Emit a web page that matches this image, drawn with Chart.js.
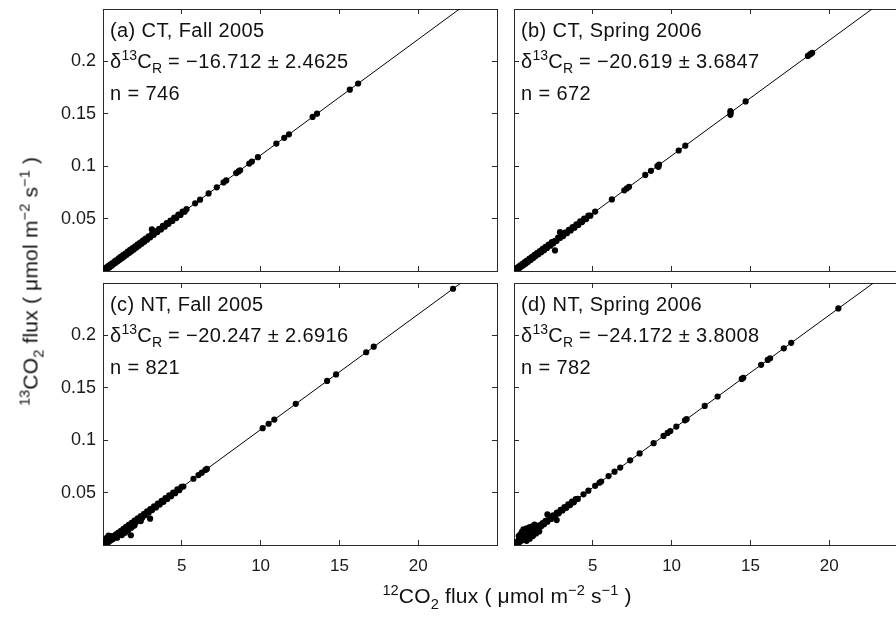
<!DOCTYPE html>
<html><head><meta charset="utf-8">
<script src="https://cdn.jsdelivr.net/npm/chart.js@4"></script>
<style>
html,body{margin:0;padding:0;background:#fff;width:896px;height:621px;overflow:hidden;position:relative;}
canvas{position:absolute;left:0;top:0;}
.t{position:absolute;font-family:'Liberation Sans',Arial,sans-serif;color:#111;white-space:nowrap;line-height:1;}
.ann{font-size:20px;letter-spacing:0.4px;}
.ttl{font-size:21px;letter-spacing:0.2px;}
sup,sub{font-size:70%;line-height:0;position:relative;vertical-align:baseline;letter-spacing:0;}
sup{top:-0.55em;}
sub{top:0.38em;}
</style></head><body>
<canvas id="cA" width="920" height="621"></canvas>
<canvas id="cB" width="920" height="621"></canvas>
<canvas id="cC" width="920" height="621"></canvas>
<canvas id="cD" width="920" height="621"></canvas>
<script>
// ---- data (x: 12CO2 flux, y: 13CO2 flux) ----
const xTicks = [0, 5, 10, 15, 20, 25];
const yTicks = [0, 0.05, 0.1, 0.15, 0.2, 0.25];
const panelTitles = ['(a) CT, Fall 2005', '(b) CT, Spring 2006', '(c) NT, Fall 2005', '(d) NT, Spring 2006'];
const deltaValues = ['\u221216.712 \u00b1 2.4625', '\u221220.619 \u00b1 3.6847', '\u221220.247 \u00b1 2.6916', '\u221224.172 \u00b1 3.8008'];
const nValues = [746, 672, 821, 782];

const ctFall = [
[0.05,0.0011],[0.1,0.0003],[0.15,0.0026],[0.2,0.0013],[0.25,0.0037],[0.3,0.0024],[0.35,0.0048],[0.42,0.0036],
[0.48,0.0063],[0.55,0.0051],[0.6,0.0076],[0.68,0.0066],[0.74,0.0091],[0.8,0.0079],[0.86,0.0105],[0.93,0.0093],
[1.0,0.0121],[1.06,0.0107],[1.12,0.0134],[1.2,0.0122],[1.27,0.0151],[1.35,0.0139],[1.42,0.0167],[1.5,0.0156],
[1.57,0.0184],[1.65,0.0172],[1.72,0.0201],[1.8,0.0188],[1.88,0.0218],[1.96,0.0206],[2.04,0.0236],[2.12,0.0224],
[2.2,0.0254],[2.28,0.0242],[2.36,0.0271],[2.45,0.0260],[2.53,0.0290],[2.62,0.0279],[2.7,0.0309],[2.8,0.0299],
[2.9,0.0331],[3.0,0.0321],[3.1,0.0397],[3.12,0.0355],[3.22,0.0345],[3.33,0.0378],[3.45,0.0371],[3.56,0.0403],
[3.68,0.0397],[3.8,0.0430],[3.92,0.0423],[4.04,0.0456],[4.16,0.0450],[4.28,0.0482],[4.4,0.0477],[4.52,0.0509],
[4.65,0.0505],[4.78,0.0537],[4.92,0.0535],[5.05,0.0566],[5.18,0.0566],[5.3,0.0590],
[5.85,0.0646],[6.16,0.0681],[6.7,0.0740],[7.22,0.0798],[7.65,0.0845],[7.82,0.0864],[8.45,0.0934],[8.6,0.0950],
[8.7,0.0961],[9.28,0.1025],[9.45,0.1044],[9.83,0.1086],[11.0,0.1216],[11.5,0.1271],[11.8,0.1304],[13.3,0.1470],
[13.58,0.1501],[15.66,0.1730],[16.19,0.1789]
];
const ctSpring = [
[0.05,0.0012],[0.1,0.0002],[0.16,0.0027],[0.22,0.0014],[0.28,0.0040],[0.34,0.0028],[0.4,0.0054],[0.47,0.0042],
[0.54,0.0069],[0.61,0.0057],[0.68,0.0085],[0.75,0.0072],[0.82,0.0100],[0.9,0.0088],[0.98,0.0118],[1.06,0.0106],
[1.14,0.0135],[1.22,0.0124],[1.3,0.0153],[1.38,0.0142],[1.46,0.0171],[1.55,0.0160],[1.64,0.0191],[1.73,0.0180],
[1.82,0.0211],[1.91,0.0199],[2.0,0.0231],[2.1,0.0220],[2.2,0.0253],[2.3,0.0242],[2.4,0.0275],[2.5,0.0264],
[2.6,0.0196],[2.6,0.0287],[2.7,0.0287],[2.8,0.0319],[2.92,0.0370],[2.92,0.0316],[3.0,0.0341],[3.12,0.0333],
[3.24,0.0367],[3.36,0.0360],[3.48,0.0393],[3.6,0.0387],[3.72,0.0420],[3.84,0.0413],[3.96,0.0446],[4.08,0.0440],
[4.2,0.0473],[4.32,0.0467],[4.45,0.0500],[4.58,0.0495],[4.72,0.0529],[4.85,0.0528],
[5.15,0.0567],[6.21,0.0683],[7.0,0.0770],[7.16,0.0788],[7.3,0.0803],[8.33,0.0917],[8.69,0.0956],[9.1,0.1001],
[9.17,0.0994],[9.2,0.1016],[10.45,0.1150],[10.87,0.1196],[13.73,0.1525],[13.73,0.1490],[13.75,0.1510],[14.7,0.1618],
[18.65,0.2052],[18.8,0.2069],[18.92,0.2082]
];
const ntFall = [
[0.05,0.0012],[0.1,0.0002],[0.16,0.0027],[0.22,0.0014],[0.28,0.0041],[0.34,0.0027],[0.4,0.0055],[0.47,0.0042],
[0.54,0.0070],[0.61,0.0056],[0.68,0.0086],[0.75,0.0072],[0.82,0.0101],[0.9,0.0087],[0.98,0.0119],[1.06,0.0105],
[1.14,0.0136],[1.22,0.0123],[1.3,0.0154],[1.38,0.0141],[1.46,0.0172],[1.55,0.0159],[1.64,0.0192],[1.73,0.0179],
[1.82,0.0212],[1.91,0.0198],[2.0,0.0232],[2.1,0.0219],[2.2,0.0254],[2.3,0.0241],[2.4,0.0276],[2.5,0.0263],
[2.6,0.0298],[2.7,0.0286],[2.8,0.0320],[2.9,0.0308],[3.0,0.0342],[3.12,0.0333],[3.24,0.0368],[3.36,0.0359],
[3.48,0.0394],[3.6,0.0386],[3.72,0.0421],[3.84,0.0412],[3.96,0.0447],[4.08,0.0439],[4.2,0.0474],[4.32,0.0466],
[4.45,0.0501],[4.58,0.0494],[4.72,0.0530],[4.85,0.0524],[4.98,0.0556],[5.1,0.0558],
[2.99,0.0251],[1.77,0.0093],[0.35,0.0090],[0.22,0.0065],[0.5,0.0085],[0.15,0.0040],
[0.9,0.0070],[1.2,0.0095],[1.4,0.0118],[1.6,0.0140],[1.8,0.0165],[2.0,0.0185],[2.4,0.0228],
[5.74,0.0632],[6.06,0.0667],[6.27,0.0690],[6.5,0.0716],[6.59,0.0726],[10.13,0.1115],[10.51,0.1157],[10.87,0.1197],
[12.23,0.1347],[14.22,0.1566],[14.79,0.1628],[16.7,0.1839],[17.18,0.1892],[22.21,0.2445]
];
const ntSpring = [
[0.05,0.0012],[0.1,0.0002],[0.16,0.0027],[0.22,0.0014],[0.28,0.0041],[0.34,0.0027],[0.4,0.0054],[0.47,0.0041],
[0.54,0.0069],[0.61,0.0056],[0.68,0.0085],[0.75,0.0072],[0.82,0.0100],[0.9,0.0088],[0.98,0.0118],[1.06,0.0105],
[1.14,0.0135],[1.22,0.0123],[1.3,0.0153],[1.38,0.0141],[1.46,0.0170],[1.55,0.0159],[1.64,0.0190],[1.73,0.0180],
[1.82,0.0210],[1.91,0.0199],[2.0,0.0230],[2.12,0.0292],[2.12,0.0223],[2.24,0.0256],[2.36,0.0248],[2.48,0.0282],
[2.6,0.0275],[2.71,0.0238],[2.72,0.0308],[2.84,0.0302],[2.96,0.0335],[3.08,0.0329],[3.2,0.0361],[3.32,0.0355],
[3.44,0.0387],[3.56,0.0381],[3.68,0.0413],[3.8,0.0407],[3.92,0.0439],[4.05,0.0440],
[0.3,0.0085],[0.4,0.0100],[0.5,0.0125],[0.6,0.0150],[0.8,0.0160],[0.9,0.0140],[1.0,0.0170],[1.2,0.0180],[1.3,0.0195],
[0.8,0.0040],[1.0,0.0060],[1.2,0.0085],[1.4,0.0110],[1.6,0.0130],
[4.41,0.0484],[4.72,0.0518],[5.15,0.0565],[5.42,0.0594],[5.53,0.0606],[6.0,0.0658],[6.38,0.0700],[6.74,0.0739],
[7.37,0.0808],[7.97,0.0874],[8.86,0.0972],[9.49,0.1041],[9.75,0.1069],[9.92,0.1088],[10.3,0.1130],[10.85,0.1190],
[10.95,0.1201],[12.1,0.1327],[12.92,0.1417],[14.45,0.1585],[14.55,0.1596],[15.68,0.1719],[16.1,0.1766],[16.25,0.1782],
[17.12,0.1877],[17.59,0.1929],[20.58,0.2257]
];
// fitted regression lines (end points)
const fitA = [[0,0],[25,0.2763]];
const fitB = [[0,0],[25,0.2751]];
const fitC = [[0,0],[25,0.2752]];
const fitD = [[0,0],[25,0.2741]];

// ---- layout ----
const CW = 920, CH = 621;
const YW = 70, XH = 40;   // reserved room for tick labels
const rects = [
  {l:103, t:9,   r:497, b:271},
  {l:514, t:9,   r:908, b:271},
  {l:103, t:283, r:497, b:545},
  {l:514, t:283, r:908, b:545}
];
const INK = '#2a2a2a';
const fam = "'Liberation Sans', Arial, sans-serif";

function axis(pos, min, max, showLabels, fmt, pad, size, fsize) {
  const horiz = (pos === 'top' || pos === 'bottom');
  return {
    type:'linear', axis: horiz ? 'x' : 'y', position: pos, min, max,
    afterBuildTicks: s => { s.ticks = (horiz ? xTicks : yTicks).map(v => ({value:v})); },
    ticks:{display:showLabels, color:'#1a1a1a', font:{family:fam, size:fsize}, padding:pad, maxRotation:0, autoSkip:false,
      callback: v => fmt(v)},
    grid:{drawOnChartArea:false, drawTicks:true, tickLength:-5, color:INK, lineWidth:1},
    border:{display:true, color:INK, width:1},
    afterFit: s => {
      if (horiz) s.height = size; else s.width = size;
      s.paddingTop = 0; s.paddingBottom = 0; s.paddingLeft = 0; s.paddingRight = 0;
    }
  };
}
const fx = v => (v <= 0 || v >= 25) ? null : String(v);
const fy = v => (v <= 0.001 || v >= 0.249) ? null : String(+v.toFixed(2));

function makeChart(id, pts, fit, rect, showX, showY) {
  const ctx = document.getElementById(id);
  new Chart(ctx, {
    type:'scatter',
    data:{datasets:[
      {data: pts.map(p => ({x:p[0], y:p[1]})), pointRadius:3.1, pointBackgroundColor:'#000',
       pointBorderWidth:0, pointHoverRadius:3.1, showLine:false, clip:0, xAxisID:'x', yAxisID:'y'},
      {type:'line', data: fit.map(p => ({x:p[0], y:p[1]})), borderColor:'#000', borderWidth:1,
       pointRadius:0, fill:false, tension:0, xAxisID:'x', yAxisID:'y'}
    ]},
    options:{
      responsive:false, animation:false, events:[],
      layout:{padding:{left:rect.l - YW, top:rect.t, right:CW-rect.r, bottom:CH-rect.b-XH}},
      plugins:{legend:{display:false}, tooltip:{enabled:false}},
      scales:{
        x: axis('bottom', 0, 25, showX, fx, 16, XH, 17),
        x2: axis('top', 0, 25, false, fx, 0, 0, 17),
        y: axis('left', 0, 0.25, showY, fy, 12, YW, 18),
        y2: axis('right', 0, 0.25, false, fy, 0, 0, 18)
      }
    }
  });
}
makeChart('cA', ctFall, fitA, rects[0], false, true);
makeChart('cB', ctSpring, fitB, rects[1], false, false);
makeChart('cC', ntFall, fitC, rects[2], true, true);
makeChart('cD', ntSpring, fitD, rects[3], true, false);

// ---- annotations ----
function addText(cls, html, left, top, extra) {
  const d = document.createElement('div');
  d.className = 't ' + cls;
  d.innerHTML = html;
  d.style.left = left + 'px';
  d.style.top = top + 'px';
  if (extra) Object.assign(d.style, extra);
  document.body.appendChild(d);
  return d;
}
rects.forEach((r, i) => {
  const L = r.l + 7;
  addText('ann', panelTitles[i], L, r.t + 11);
  addText('ann', '\u03b4<sup>13</sup>C<sub>R</sub> = ' + deltaValues[i], L, r.t + 42);
  addText('ann', 'n = ' + nValues[i], L, r.t + 74);
});
addText('ttl', '<sup>12</sup>CO<sub>2</sub> flux ( \u03bcmol m<sup>\u22122</sup> s<sup>\u22121</sup> )', 307, 585,
  {width:'400px', textAlign:'center'});
addText('ttl', '<sup>13</sup>CO<sub>2</sub> flux ( \u03bcmol m<sup>\u22122</sup> s<sup>\u22121</sup> )', -170, 271,
  {width:'400px', height:'21px', textAlign:'center', transform:'rotate(-90deg)'});
</script>
</body></html>
